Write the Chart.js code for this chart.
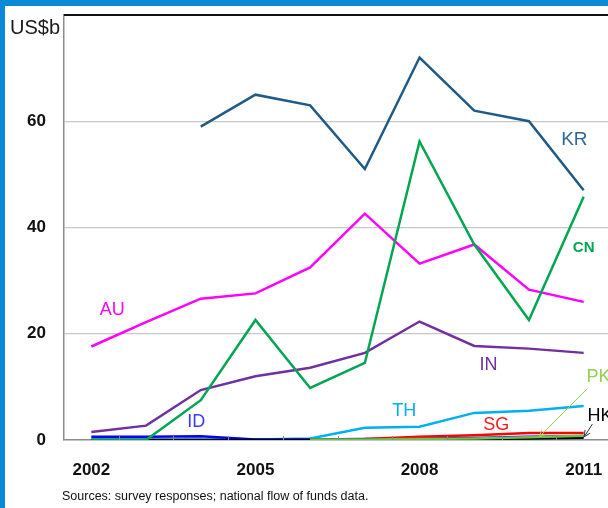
<!DOCTYPE html>
<html>
<head>
<meta charset="utf-8">
<script src="https://cdn.jsdelivr.net/npm/chart.js@4"></script>
<style>
  body { margin: 0; background: #fff; }
  #frame { position: relative; width: 608px; height: 508px; overflow: hidden; background: #fff; }
  #wrap { position: absolute; left: 0; top: 0; width: 620px; height: 508px; }
  .band { position: absolute; background: #0a8ad6; }
</style>
</head>
<body>
<div id="frame">
  <div id="wrap"><canvas id="myChart"></canvas></div>
  <div class="band" style="left:0;top:0;width:608px;height:6px"></div>
  <div class="band" style="left:0;top:0;width:5px;height:508px"></div>
</div>
<script>
'use strict';

// Categories
let years = ['2002', '2003', '2004', '2005', '2006', '2007', '2008', '2009', '2010', '2011'];
let shownYears = ['2002', '2005', '2008', '2011'];
let yTicks = [0, 20, 40, 60];

// Series values (US$b)
let krValues = [null, null, 59, 65, 63, 51, 72, 62, 60, 47];
let cnValues = [0, 0, 7.5, 22.6, 9.8, 14.5, 56.2, 36.8, 22.6, 45.8];
let auValues = [17.6, 22.2, 26.6, 27.6, 32.5, 42.6, 33.2, 36.8, 28.3, 26];
let inValues = [1.5, 2.7, 9.4, 12, 13.6, 16.4, 22.3, 17.7, 17.2, 16.4];
let thValues = [0.1, 0.1, 0.1, 0.1, 0.3, 2.3, 2.5, 5.1, 5.5, 6.4];
let idValues = [0.6, 0.6, 0.7, 0.1, 0.1, 0.2, 0.3, 0.4, 0.6, 0.7];
let sgValues = [null, null, null, null, null, 0.2, 0.6, 0.9, 1.3, 1.3];
let pkValues = [null, null, null, null, 0.1, 0.1, 0.2, 0.3, 0.5, 0.8];
let hkValues = [0, 0, 0, 0, 0, 0.1, 0.1, 0.2, 0.3, 0.4];

// Series labels placed in data units: [name, year index, value, colour, font, align]
let seriesLabels = [
  ['KR', 8.83, 56.5, '#2f6890', '19px "Liberation Sans"', 'center'],
  ['CN', 9.0, 36.2, '#00a651', 'bold 15px "Liberation Sans"', 'center'],
  ['AU', 0.38, 24.5, '#ff00ff', '18px "Liberation Sans"', 'center'],
  ['IN', 7.26, 14.1, '#7030a0', '18px "Liberation Sans"', 'center'],
  ['TH', 5.72, 5.5, '#00b0f0', '18px "Liberation Sans"', 'center'],
  ['ID', 1.92, 3.4, '#3b3bff', '18px "Liberation Sans"', 'center'],
  ['SG', 7.4, 2.8, '#ff1a1a', '18px "Liberation Sans"', 'center'],
  ['PK', 9.05, 11.9, '#92d050', '18px "Liberation Sans"', 'left'],
  ['HK', 9.07, 4.5, '#000000', '18px "Liberation Sans"', 'left']
];

// Pointer lines: [from index, from value, to index, to value, colour]
let pointers = [
  [9.06, 9.6, 8.19, 0.6, '#92d050'],
  [9.16, 3.0, 9.01, 0.6, '#333333']
];

function line(label, data, color, order) {
  return {
    label: label,
    data: data,
    borderColor: color,
    backgroundColor: color,
    borderWidth: 2.5,
    pointRadius: 0,
    tension: 0,
    order: order
  };
}

let extras = {
  id: 'extras',
  afterDatasetsDraw(chart) {
    let ctx = chart.ctx;
    let x = chart.scales.x;
    let y = chart.scales.y;
    let area = chart.chartArea;
    ctx.save();
    // top border
    ctx.strokeStyle = '#111';
    ctx.lineWidth = 2;
    ctx.beginPath();
    ctx.moveTo(area.left, area.top);
    ctx.lineTo(area.right, area.top);
    ctx.stroke();
    // small inward ticks on category boundaries
    ctx.strokeStyle = '#888';
    ctx.lineWidth = 1;
    for (let i = 1; i < years.length; i++) {
      let px = Math.round(x.getPixelForValue(i - 0.5)) + 0.5;
      ctx.beginPath();
      ctx.moveTo(px, area.bottom);
      ctx.lineTo(px, area.bottom - 4);
      ctx.stroke();
    }
    // pointer lines with arrow heads
    pointers.forEach(p => {
      let x1 = x.getPixelForValue(p[0]), y1 = y.getPixelForValue(p[1]);
      let x2 = x.getPixelForValue(p[2]), y2 = y.getPixelForValue(p[3]);
      ctx.strokeStyle = p[4];
      ctx.lineWidth = 1;
      ctx.beginPath();
      ctx.moveTo(x1, y1);
      ctx.lineTo(x2, y2);
      let a = Math.atan2(y2 - y1, x2 - x1);
      ctx.moveTo(x2 - 7 * Math.cos(a - 0.45), y2 - 7 * Math.sin(a - 0.45));
      ctx.lineTo(x2, y2);
      ctx.lineTo(x2 - 7 * Math.cos(a + 0.45), y2 - 7 * Math.sin(a + 0.45));
      ctx.stroke();
    });
    // series labels
    ctx.textBaseline = 'middle';
    seriesLabels.forEach(l => {
      ctx.fillStyle = l[3];
      ctx.font = l[4];
      ctx.textAlign = l[5];
      ctx.fillText(l[0], x.getPixelForValue(l[1]), y.getPixelForValue(l[2]));
    });
    // unit label
    ctx.fillStyle = '#1a1a1a';
    ctx.font = '20px "Liberation Sans"';
    ctx.textAlign = 'left';
    ctx.fillText('US$b', 10, 28);
    // source note
    ctx.font = '12.5px "Liberation Sans"';
    ctx.fillStyle = '#111';
    ctx.fillText('Sources: survey responses; national flow of funds data.', 62, 497);
    ctx.restore();
  }
};

let ctx = document.getElementById('myChart').getContext('2d');
new Chart(ctx, {
  type: 'line',
  data: {
    labels: years,
    datasets: [
      line('KR', krValues, '#1f5b86', 1),
      line('CN', cnValues, '#00a651', 2),
      line('AU', auValues, '#ff00ff', 3),
      line('IN', inValues, '#7030a0', 4),
      line('PK', pkValues, '#6cc24a', 5),
      line('HK', hkValues, '#000000', 6),
      line('SG', sgValues, '#ff0000', 7),
      line('ID', idValues, '#0000ff', 8),
      line('TH', thValues, '#00b0f0', 9)
    ]
  },
  options: {
    responsive: true,
    maintainAspectRatio: false,
    animation: false,
    layout: { padding: { top: 15, right: 9, left: 0, bottom: 0 } },
    plugins: {
      legend: { display: false },
      tooltip: { enabled: false }
    },
    scales: {
      x: {
        offset: true,
        grid: { display: false, drawTicks: false },
        border: { display: true, color: '#8c8c8c', width: 1.5 },
        ticks: {
          autoSkip: false,
          maxRotation: 0,
          padding: 20,
          color: '#111',
          font: { family: 'Liberation Sans', size: 17, weight: 'bold' },
          callback: function (v) {
            let lab = this.getLabelForValue(v);
            return shownYears.includes(lab) ? lab : '';
          }
        },
        afterFit: s => { s.height = 68; s.paddingLeft = 0; s.paddingRight = 0; }
      },
      y: {
        min: 0,
        max: 80,
        ticks: {
          stepSize: 20,
          padding: 18,
          color: '#111',
          font: { family: 'Liberation Sans', size: 17, weight: 'bold' },
          callback: v => yTicks.includes(v) ? v : ''
        },
        grid: {
          drawTicks: false,
          color: c => (c.tick.value > 0 && c.tick.value < 80) ? '#c8c8c8' : 'rgba(0,0,0,0)',
          lineWidth: 1.2
        },
        border: { display: true, color: '#8c8c8c', width: 1.5 },
        afterFit: s => { s.width = 64; s.paddingTop = 0; s.paddingBottom = 0; }
      }
    }
  },
  plugins: [extras]
});
</script>
</body>
</html>
